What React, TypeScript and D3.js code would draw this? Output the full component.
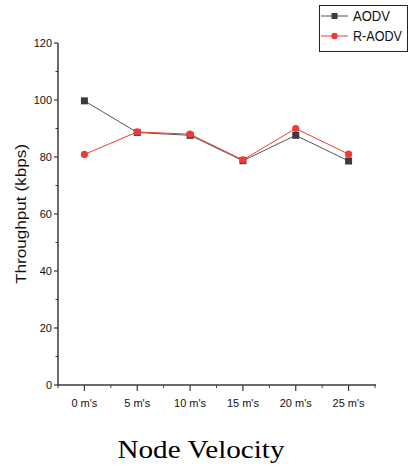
import React from "react";
import * as d3 from "d3";

const categories = ["0 m's", "5 m's", "10 m's", "15 m's", "20 m's", "25 m's"];
const aodv = [99.7, 88.6, 87.6, 78.7, 87.6, 78.6];
const raodv = [80.9, 88.8, 88.0, 79.0, 90.0, 81.0];
const yTicks = [0, 20, 40, 60, 80, 100, 120];
const yMinor = [10, 30, 50, 70, 90, 110];
const seriesNames = ["AODV", "R-AODV"];

const W = 409;
const H = 467;
const left = 58;
const right = 375;
const top = 43;
const bottom = 385;

export default function App() {
  const x = d3.scalePoint<string>().domain(categories).range([left, right]).padding(0.5);
  const y = d3.scaleLinear().domain([0, 120]).range([bottom, top]);
  const step = x.step();
  const line = d3
    .line<number>()
    .x((_, i) => x(categories[i]) as number)
    .y((d) => y(d));
  const axisColor = "#3a3a3a";
  const gray = "#555555";
  const markGray = "#3c3c3c";
  const red = "#f03a3a";
  const minorX = d3.range(0, categories.length + 1).map((k) => left + k * step);

  return (
    <svg
      width={W}
      height={H}
      style={{ position: "absolute", left: 0, top: 0, background: "#fff" }}
      fontFamily="'Liberation Sans', Arial, sans-serif"
    >
      {/* Y axis */}
      <line x1={left} x2={left} y1={top} y2={bottom + 1} stroke={axisColor} strokeWidth={1.5} />
      {yTicks.map((t) => (
        <g key={"yt" + t}>
          <line x1={left - 4} x2={left} y1={y(t)} y2={y(t)} stroke={axisColor} strokeWidth={1.2} />
          <text x={left - 6} y={y(t)} dy="0.36em" textAnchor="end" fontSize={11} fill="#111">
            {t}
          </text>
        </g>
      ))}
      {yMinor.map((t) => (
        <line key={"ym" + t} x1={left - 2.5} x2={left} y1={y(t)} y2={y(t)} stroke={axisColor} strokeWidth={1} />
      ))}
      {/* X axis */}
      <line x1={left} x2={right + 1} y1={bottom} y2={bottom} stroke={axisColor} strokeWidth={1.5} />
      {categories.map((c) => (
        <g key={"xt" + c}>
          <line x1={x(c)} x2={x(c)} y1={bottom} y2={bottom + 6} stroke={axisColor} strokeWidth={1.2} />
          <text x={x(c)} y={407} textAnchor="middle" fontSize={11} fill="#111">
            {c}
          </text>
        </g>
      ))}
      {minorX.map((mx, i) => (
        <line key={"xm" + i} x1={mx} x2={mx} y1={bottom} y2={bottom + 3} stroke={axisColor} strokeWidth={1} />
      ))}
      {/* Axis titles */}
      <text
        transform={`translate(26,${(top + bottom) / 2 + 0}) rotate(-90)`}
        textAnchor="middle"
        fontSize={14}
        textLength={140}
        lengthAdjust="spacingAndGlyphs"
        fill="#111"
      >
        Throughput (kbps)
      </text>
      <text
        x={201}
        y={458}
        textAnchor="middle"
        fontFamily="'Liberation Serif', 'Times New Roman', serif"
        fontSize={26}
        textLength={167}
        lengthAdjust="spacingAndGlyphs"
        fill="#000"
      >
        Node Velocity
      </text>
      {/* Series */}
      <path d={line(aodv) || ""} fill="none" stroke={gray} strokeWidth={1} />
      <path d={line(raodv) || ""} fill="none" stroke={red} strokeWidth={1} />
      {aodv.map((v, i) => (
        <rect
          key={"a" + i}
          x={(x(categories[i]) as number) - 3.5}
          y={y(v) - 3.5}
          width={7}
          height={7}
          fill={markGray}
        />
      ))}
      {raodv.map((v, i) => (
        <circle key={"r" + i} cx={x(categories[i]) as number} cy={y(v)} r={3.6} fill={red} />
      ))}
      {/* Legend */}
      <rect x={319.5} y={5.5} width={88} height={46} fill="#fff" stroke="#222" strokeWidth={1} />
      {seriesNames.map((n, i) => {
        const ly = 16 + i * 20;
        const col = i === 0 ? gray : red;
        return (
          <g key={n}>
            <line x1={321} x2={348} y1={ly} y2={ly} stroke={col} strokeWidth={1} />
            {i === 0 ? (
              <rect x={331.5} y={ly - 3} width={6} height={6} fill={markGray} />
            ) : (
              <circle cx={334.5} cy={ly} r={3.2} fill={red} />
            )}
            <text
              x={353}
              y={ly}
              dy="0.36em"
              fontSize={14.5}
              textLength={i === 0 ? 37 : 49}
              lengthAdjust="spacingAndGlyphs"
              fill="#111"
            >
              {n}
            </text>
          </g>
        );
      })}
    </svg>
  );
}
